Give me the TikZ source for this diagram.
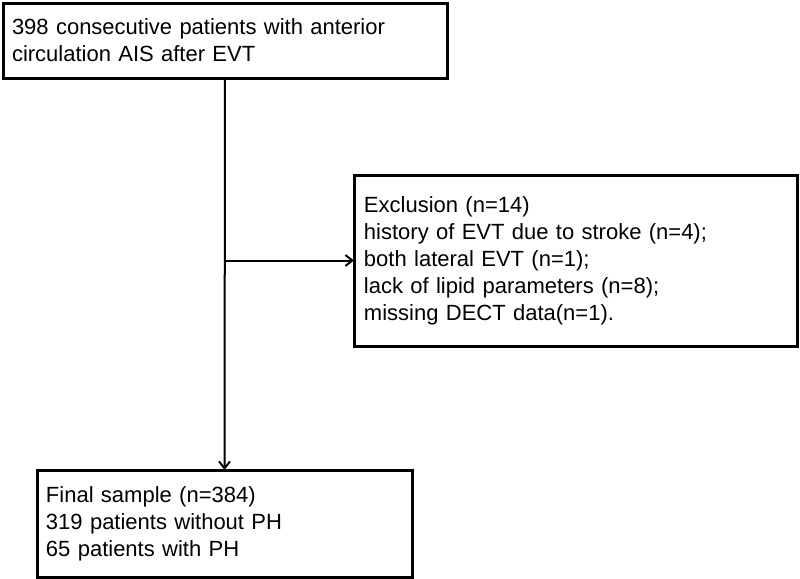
\documentclass[tikz,border=0pt]{standalone}
\usepackage{fontspec}
\setmainfont{Liberation Sans}
\usetikzlibrary{arrows.meta}
\begin{document}
\begin{tikzpicture}[
    x = 0.5pt,
    y = -0.5pt,
    >={Straight Barb[length=3.5pt,width=5.5pt]},
    flowbox/.style = {draw, line width=1.5pt, align=left, anchor=north west,
    inner xsep=4.5pt, inner ysep=0pt, outer sep=0pt,
    font=\fontsize{11}{13.5}\selectfont},
    flowline/.style = {line width=1pt},
]

\useasboundingbox (0,0) rectangle (800,579);

\node[flowbox, minimum width=222pt, minimum height=37.5pt, text width=213pt] (start) at (3,3)
    {398 consecutive patients with anterior\\circulation AIS after EVT};
\node[flowbox, minimum width=221.5pt, minimum height=85.5pt, text width=211.5pt, inner xsep=5pt] (excl) at (354,175)
    {Exclusion (n=14)\\history of EVT due to stroke (n=4);\\both lateral EVT (n=1);\\lack of lipid parameters (n=8);\\missing DECT data(n=1).};
\node[flowbox, minimum width=187.5pt, minimum height=53.5pt, text width=178.5pt] (final) at (37,470)
    {Final sample (n=384)\\319 patients without PH\\65 patients with PH};

\coordinate (split) at (start.south |- excl.west);

\draw [flowline, ->] (start.south) -- (final.north);
\draw [flowline, ->] (split) -- (excl.west);

\end{tikzpicture}
\end{document}
